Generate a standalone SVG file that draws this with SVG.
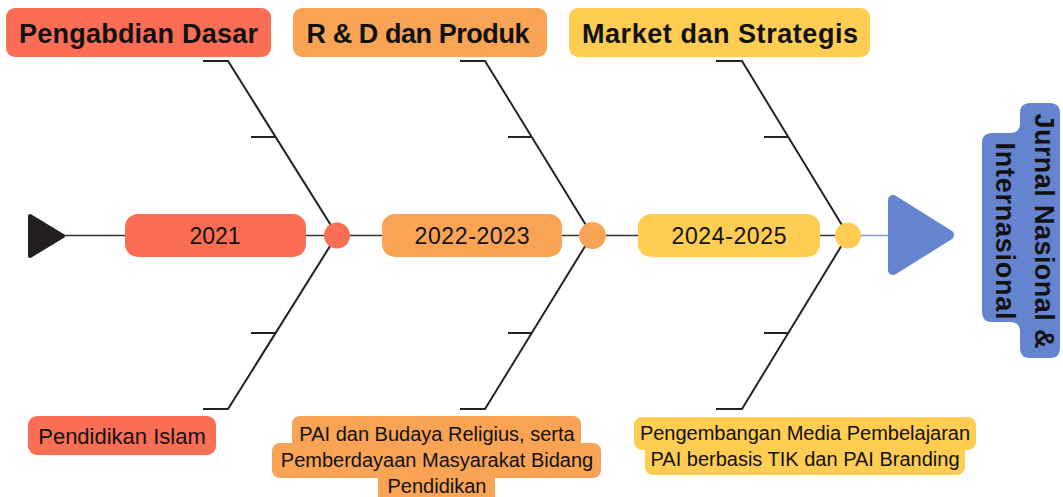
<svg xmlns="http://www.w3.org/2000/svg" width="1063" height="497" viewBox="0 0 1063 497">
<style>
.hdr{font-family:"Liberation Sans",Arial,sans-serif;font-weight:bold;font-size:27px;fill:#111;text-anchor:middle}
.yr{font-family:"Liberation Sans",Arial,sans-serif;font-size:23px;fill:#111;text-anchor:middle}
.lbl{font-family:"Liberation Sans",Arial,sans-serif;font-size:20px;fill:#111;text-anchor:middle}
.bone{stroke:#232323;stroke-width:2;fill:none;stroke-linejoin:miter}
.red{fill:#FC6D55}.org{fill:#F9A454}.yel{fill:#FFCD52}.blu{fill:#6584CF}
</style>
<rect width="1063" height="497" fill="#ffffff"/>
<g id="connectors">
<line x1="60" y1="235.5" x2="836" y2="235.5" stroke="#333" stroke-width="1.6"/>
<line x1="860" y1="235.5" x2="892" y2="235.5" stroke="#7E9BE0" stroke-width="1.6"/>
<polyline class="bone" points="203,61 228,61 337,235 228,409 203,409"/>
<line class="bone" x1="251" y1="137" x2="276" y2="137"/>
<line class="bone" x1="251" y1="333" x2="276" y2="333"/>
<polyline class="bone" points="460,61 485,61 592,235 485,409 460,409"/>
<line class="bone" x1="508" y1="137" x2="532" y2="137"/>
<line class="bone" x1="508" y1="333" x2="532" y2="333"/>
<polyline class="bone" points="716,61 742,61 848,235 742,409 716,409"/>
<line class="bone" x1="764" y1="137" x2="789" y2="137"/>
<line class="bone" x1="764" y1="333" x2="789" y2="333"/>
</g>
<g id="tail">
<polygon points="30,216 63,236 30,256" fill="#231F20" stroke="#231F20" stroke-width="4" stroke-linejoin="round"/>
</g>
<g id="head-pengabdian">
<rect class="red" x="6" y="8" width="265" height="49" rx="9"/>
<text class="hdr" x="138.5" y="43" textLength="239">Pengabdian Dasar</text>
</g>
<g id="head-rd">
<rect class="org" x="293" y="8" width="254" height="49" rx="9"/>
<text class="hdr" x="418" y="43" textLength="223">R &amp; D dan Produk</text>
</g>
<g id="head-market">
<rect class="yel" x="569" y="8" width="301" height="49" rx="9"/>
<text class="hdr" x="720" y="43" textLength="276">Market dan Strategis</text>
</g>
<g id="year-2021">
<rect class="red" x="125" y="214" width="181" height="43" rx="13"/>
<text class="yr" x="215" y="244">2021</text>
</g>
<g id="dot-1"><circle class="red" cx="337" cy="235.5" r="13"/></g>
<g id="year-2022">
<rect class="org" x="382" y="214" width="180" height="43" rx="13"/>
<text class="yr" x="472" y="244" textLength="115">2022-2023</text>
</g>
<g id="dot-2"><circle class="org" cx="592.5" cy="235.5" r="13.5"/></g>
<g id="year-2024">
<rect class="yel" x="638" y="214" width="182" height="43" rx="13"/>
<text class="yr" x="729" y="244" textLength="115">2024-2025</text>
</g>
<g id="dot-3"><circle class="yel" cx="848" cy="235.5" r="13"/></g>
<g id="head-arrow">
<polygon class="blu" points="893,200 949,235 893,270" stroke="#6584CF" stroke-width="10" stroke-linejoin="round"/>
</g>
<g id="jurnal">
<path class="blu" d="M1030,103 H1050 Q1060,103 1060,113 V348 Q1060,358 1050,358 H1030 Q1020,358 1020,348 V332 Q1020,322 1010,322 H992 Q982,322 982,312 V143 Q982,133 992,133 H1010 Q1020,133 1020,123 V113 Q1020,103 1030,103 Z"/>
<text class="hdr" transform="translate(1035,231) rotate(90)" textLength="235">Jurnal Nasional &amp;</text>
<text class="hdr" transform="translate(996,231) rotate(90)" textLength="177">Internasional</text>
</g>
<g id="label-pendidikan">
<rect class="red" x="28" y="416" width="188" height="39" rx="9"/>
<text class="lbl" x="122" y="444" style="font-size:22px">Pendidikan Islam</text>
</g>
<g id="label-pai">
<rect class="org" x="292" y="416" width="289" height="34" rx="8"/>
<rect class="org" x="272" y="443" width="329" height="35" rx="8"/>
<rect class="org" x="378" y="471" width="117" height="40" rx="8"/>
<text class="lbl" x="437" y="441">PAI dan Budaya Religius, serta</text>
<text class="lbl" x="437" y="467">Pemberdayaan Masyarakat Bidang</text>
<text class="lbl" x="437" y="493">Pendidikan</text>
</g>
<g id="label-media">
<rect class="yel" x="634" y="417" width="342" height="33" rx="8"/>
<rect class="yel" x="645" y="443" width="320" height="32" rx="8"/>
<text class="lbl" x="805" y="440">Pengembangan Media Pembelajaran</text>
<text class="lbl" x="805" y="466">PAI berbasis TIK dan PAI Branding</text>
</g>
</svg>
